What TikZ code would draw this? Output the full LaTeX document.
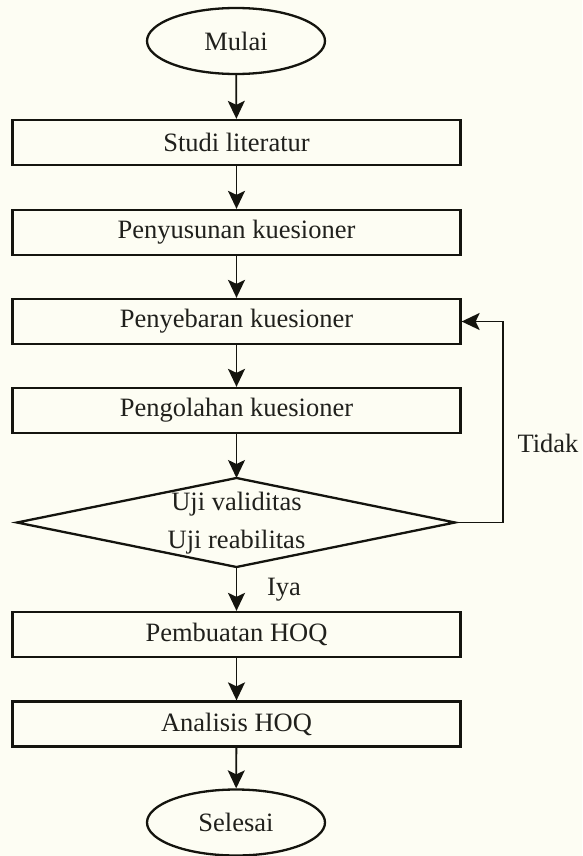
\documentclass[tikz,border=0pt]{standalone}
\usepackage{fontspec}
\setmainfont{Liberation Serif}
\usetikzlibrary{shapes.geometric,arrows.meta}
\definecolor{paper}{RGB}{253,253,243}
\definecolor{ink}{RGB}{20,20,14}
\definecolor{label}{RGB}{32,32,28}
\begin{document}
\begin{tikzpicture}[x=1pt,y=-1pt,
  every node/.style={font=\fontsize{26.5}{38}\selectfont, text=label},
  line/.style={draw=ink, line width=2.3pt},
  terminal/.style={line, ellipse, minimum width=178pt, minimum height=66pt, inner sep=0pt},
  process/.style={line, rectangle, minimum width=448pt, minimum height=45pt, inner sep=0pt},
  flow/.style={line, line width=1.8pt, -{Stealth[length=18pt,width=17pt,inset=4pt]}}
]
% canvas
\fill[paper] (0,0) rectangle (582,856);
\useasboundingbox (0,0) rectangle (582,856);

% flow steps
\node[terminal] (start) at (236,41)    {Mulai};
\node[process]  (s1)    at (236.5,142.5) {Studi literatur};
\node[process]  (s2)    at (236.5,232.5) {Penyusunan kuesioner};
\node[process]  (s3)    at (236.5,321.5) {Penyebaran kuesioner};
\node[process]  (s4)    at (236.5,410.5) {Pengolahan kuesioner};
\node[process]  (s5)    at (236.5,634.5) {Pembuatan HOQ};
\node[process]  (s6)    at (236.5,724)   {Analisis HOQ};
\node[terminal] (stop)  at (236,822.5) {Selesai};

% decision: a flat diamond with its two lines of text
\coordinate (tN) at (236.5,478);
\coordinate (tS) at (236.5,567);
\coordinate (tW) at (17,522.5);
\coordinate (tE) at (455,522.5);
\draw[line, line join=miter] (tN) -- (tE) -- (tS) -- (tW) -- cycle;
\node[align=center] (test) at (236.5,523) {Uji validitas\\Uji reabilitas};

% main connectors
\draw[flow] (start) -- (s1);
\draw[flow] (s1) -- (s2);
\draw[flow] (s2) -- (s3);
\draw[flow] (s3) -- (s4);
\draw[flow] (s4) -- (tN);
\draw[flow] (tS) -- (s5);
\draw[flow] (s5) -- (s6);
\draw[flow] (s6) -- (stop);

% loop back when the test fails
\coordinate (back) at (503,0);
\draw[flow] (tE) -- (tE -| back) -- (back |- s3.east) -- (s3.east);

% branch labels
\node (no)  at (548,443) {Tidak};
\node (yes) at (284,590) {Iya};
\end{tikzpicture}
\end{document}
